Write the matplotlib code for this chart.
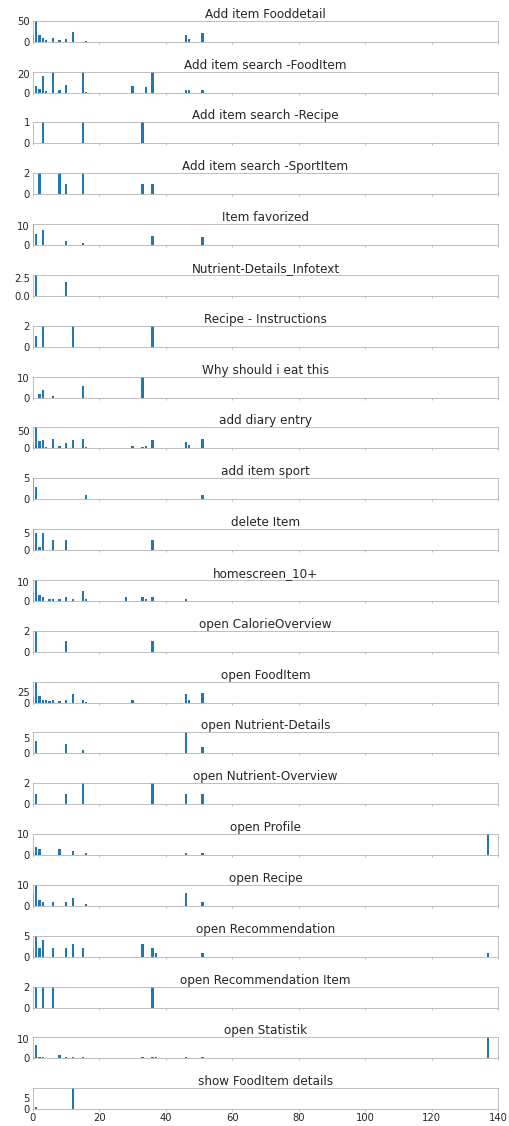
import matplotlib
matplotlib.use("Agg")
import matplotlib.pyplot as plt

# event names (one subplot each)
titles = ["Add item Fooddetail", "Add item search -FoodItem", "Add item search -Recipe",
          "Add item search -SportItem", "Item favorized", "Nutrient-Details_Infotext",
          "Recipe - Instructions", "Why should i eat this", "add diary entry",
          "add item sport", "delete Item", "homescreen_10+", "open CalorieOverview",
          "open FoodItem", "open Nutrient-Details", "open Nutrient-Overview",
          "open Profile", "open Recipe", "open Recommendation",
          "open Recommendation Item", "open Statistik", "show FoodItem details"]

# bin index -> count, per event
fooddetail_x = [0, 1, 2, 3, 4, 6, 8, 10, 12, 16, 46, 47, 51]
fooddetail_y = [15, 50, 16, 9, 5, 8, 5, 7, 23, 2, 16, 6, 21]
search_food_x = [1, 2, 3, 4, 6, 8, 10, 15, 16, 30, 34, 36, 46, 47, 51]
search_food_y = [7, 4, 18, 2, 22, 3, 8, 23, 1, 7, 6, 22, 3, 3, 3]
search_recipe_x = [3, 15, 33]
search_recipe_y = [1, 1, 1]
search_sport_x = [2, 8, 10, 15, 33, 36]
search_sport_y = [2, 2, 1, 2, 1, 1]
favorized_x = [0, 1, 3, 10, 15, 36, 51]
favorized_y = [11, 6, 8, 2, 1, 5, 4]
infotext_x = [1, 10]
infotext_y = [3, 2]
instructions_x = [1, 3, 12, 36]
instructions_y = [1, 2, 2, 2]
why_eat_x = [2, 3, 6, 15, 33]
why_eat_y = [2, 4, 1, 6, 11]
diary_x = [0, 1, 2, 3, 4, 6, 8, 10, 12, 15, 16, 30, 33, 34, 36, 46, 47, 51]
diary_y = [18, 60, 22, 23, 4, 26, 8, 16, 23, 27, 5, 7, 3, 7, 23, 19, 10, 26]
item_sport_x = [0, 1, 16, 51]
item_sport_y = [5, 3, 1, 1]
delete_x = [0, 1, 2, 3, 6, 10, 36]
delete_y = [6, 5, 1, 5, 3, 3, 3]
homescreen_x = [0, 1, 2, 3, 5, 6, 8, 10, 12, 15, 16, 28, 33, 34, 36, 46]
homescreen_y = [4, 11, 3, 2, 1, 1, 1, 2, 1, 5, 1, 2, 2, 1, 2, 1]
calorie_x = [1, 10, 36]
calorie_y = [2, 1, 1]
fooditem_x = [0, 1, 2, 3, 4, 5, 6, 8, 10, 12, 15, 16, 30, 46, 47, 51]
fooditem_y = [12, 49, 16, 7, 5, 3, 7, 3, 7, 20, 7, 2, 5, 20, 7, 22]
nutr_details_x = [1, 10, 15, 46, 51]
nutr_details_y = [4, 3, 1, 7, 2]
nutr_overview_x = [1, 10, 15, 36, 46, 51]
nutr_overview_y = [1, 1, 2, 2, 1, 1]
profile_x = [0, 1, 2, 8, 12, 16, 46, 51, 137]
profile_y = [2, 4, 3, 3, 2, 1, 1, 1, 10]
recipe_x = [0, 1, 2, 3, 6, 10, 12, 16, 46, 51]
recipe_y = [6, 10, 3, 2, 2, 2, 4, 1, 6, 2]
recomm_x = [0, 1, 2, 3, 6, 10, 12, 15, 33, 36, 37, 51, 137]
recomm_y = [2, 5, 2, 4, 2, 2, 3, 2, 3, 2, 1, 1, 1]
recomm_item_x = [1, 3, 6, 36]
recomm_item_y = [2, 2, 2, 2]
statistik_x = [0, 1, 2, 3, 8, 10, 12, 15, 33, 36, 37, 46, 51, 137]
statistik_y = [1, 7, 1, 1, 2, 1, 1, 1, 1, 1, 1, 1, 1, 11]
show_details_x = [1, 12]
show_details_y = [1, 9]

xs = [fooddetail_x, search_food_x, search_recipe_x, search_sport_x, favorized_x,
      infotext_x, instructions_x, why_eat_x, diary_x, item_sport_x, delete_x,
      homescreen_x, calorie_x, fooditem_x, nutr_details_x, nutr_overview_x,
      profile_x, recipe_x, recomm_x, recomm_item_x, statistik_x, show_details_x]
ys = [fooddetail_y, search_food_y, search_recipe_y, search_sport_y, favorized_y,
      infotext_y, instructions_y, why_eat_y, diary_y, item_sport_y, delete_y,
      homescreen_y, calorie_y, fooditem_y, nutr_details_y, nutr_overview_y,
      profile_y, recipe_y, recomm_y, recomm_item_y, statistik_y, show_details_y]

plt.rcParams['font.family'] = 'DejaVu Sans'
plt.rcParams['text.color'] = '#262626'
plt.rcParams['xtick.color'] = '#262626'
plt.rcParams['ytick.color'] = '#262626'

fig, axes = plt.subplots(len(titles), 1, figsize=(509 / 72, 1126 / 72), dpi=72, sharex=True)
fig.subplots_adjust(left=0.0648, right=0.9784, top=0.9816, bottom=0.0148, hspace=1.42)

for ax, t, x, y in zip(axes, titles, xs, ys):
    ax.bar(x, y, width=0.7, color='#1f77b4')
    ax.set_title(t, fontsize=12, pad=2.5)
    ax.set_xlim(0, 140)
    ax.set_ylim(0, max(y))
    for s in ax.spines.values():
        s.set_color('#b0b0b0')
    ax.tick_params(axis='y', length=0, pad=3, labelsize=10)
    ax.tick_params(axis='x', length=2, pad=2, color='#b0b0b0', labelsize=10)

plt.savefig("out.png", dpi=72)
